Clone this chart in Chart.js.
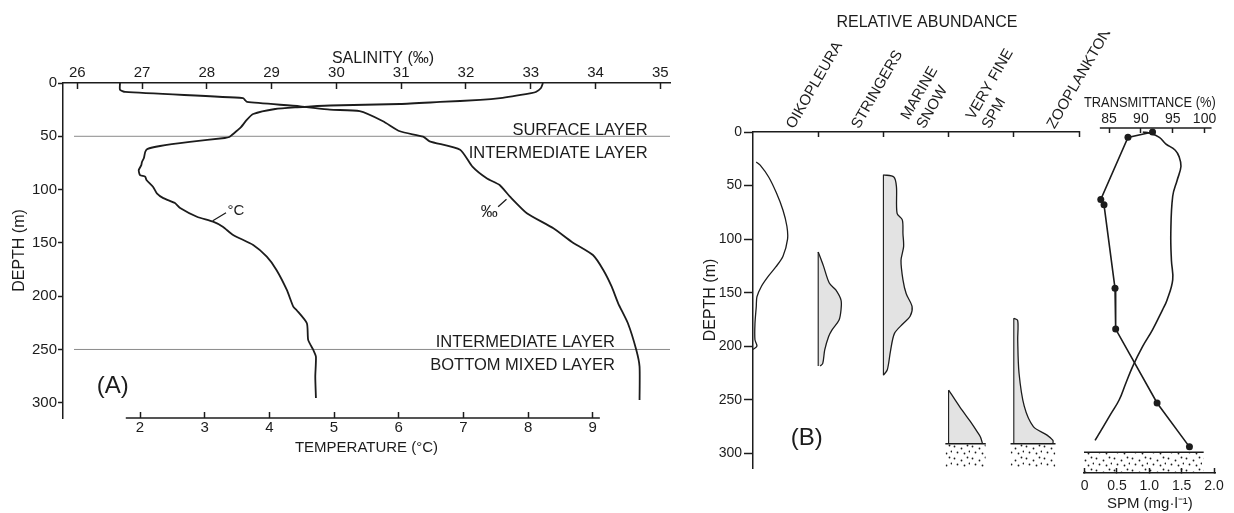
<!DOCTYPE html>
<html><head><meta charset="utf-8">
<script src="https://cdn.jsdelivr.net/npm/chart.js@4/dist/chart.umd.min.js"></script>
<style>
html,body{margin:0;padding:0;background:#fff;}
#wrap{position:relative;width:1234px;height:513px;overflow:hidden;background:#fff;}
canvas{position:absolute;top:0;}
</style></head><body>
<div id="wrap">
<canvas id="cA" width="700" height="513" style="left:0px"></canvas>
<canvas id="cB" width="454" height="513" style="left:700px"></canvas>
<canvas id="cC" width="194" height="513" style="left:1040px"></canvas>
</div>
<script>
// ================= DATA =================
// Panel A – temperature and salinity profiles
const depthTicks = [0, 50, 100, 150, 200, 250, 300];
const salinityTicks = [26, 27, 28, 29, 30, 31, 32, 33, 34, 35];
const temperatureTicks = [2, 3, 4, 5, 6, 7, 8, 9];
const tempDepth = [0, 4.7, 8.4, 9.4, 14.1, 15.9, 17.8, 19.7, 21.1, 22.8, 24.4, 29.1, 34.7, 42.2, 48.8, 50.7, 51.6, 55.3, 59.1, 62, 64.7, 70.4, 74.1, 77, 81.7, 86.4, 87.9, 91, 97.3, 103.5, 108, 112.6, 117.3, 125.5, 130.1, 134.9, 142.6, 152, 163, 175.4, 194.2, 209.9, 213, 225.4, 241, 250.5, 256.8, 275.5, 295.5];
const tempValue = [8.23, 8.20, 8.12, 8.05, 7.57, 7.26, 6.64, 6.02, 4.94, 4.43, 4.09, 3.75, 3.65, 3.55, 3.42, 3.38, 3.31, 2.77, 2.31, 2.11, 2.08, 2.06, 2.03, 2.02, 1.98, 2.0, 2.08, 2.10, 2.20, 2.26, 2.36, 2.54, 2.62, 2.88, 3.13, 3.28, 3.44, 3.75, 3.96, 4.11, 4.27, 4.37, 4.42, 4.58, 4.60, 4.68, 4.72, 4.71, 4.72];
const salDepth = [0, 6.3, 8.4, 14.1, 16, 17.8, 21.9, 25, 26.5, 35.9, 45.3, 50.4, 54.7, 62.6, 78.5, 89.4, 95.7, 106.7, 122.2, 136.3, 148.9, 161.4, 175.4, 191.1, 206.7, 225.4, 250.5, 266.1, 297.4];
const salValue = [26.66, 26.66, 26.74, 28.56, 28.59, 28.62, 29.44, 29.9, 30.36, 30.72, 30.98, 31.34, 31.44, 31.91, 32.1, 32.32, 32.52, 32.68, 32.94, 33.35, 33.63, 33.96, 34.12, 34.25, 34.35, 34.5, 34.63, 34.68, 34.68];
const layerDepths = [50, 250];
const layerLineSal = [25.95, 35.15];
const tempAxisSpan = [1.78, 9.11];

// Panel B – relative abundance (each column = 1 unit, profile measured from column's left edge)
const abundanceLabels = ['OIKOPLEURA', 'STRINGERS', ['MARINE', 'SNOW'], ['VERY FINE', 'SPM'], 'ZOOPLANKTON'];
const abundanceLabelAt = [0.5, 1.5, 2.5, 3.5, 4.5];
const oikoDepth = [28, 31, 42, 57, 73, 88, 100, 116, 126, 135, 144, 154, 163, 179, 194, 200, 203];
const oikoValue = [0.05, 0.11, 0.24, 0.36, 0.46, 0.52, 0.53, 0.46, 0.35, 0.23, 0.13, 0.06, 0.05, 0.03, 0.03, 0.06, 0.0];
const strDepth = [112, 125, 141, 147.5, 157, 166, 175.5, 185, 191, 203.5, 216, 218.5];
const strValue = [0.0, 0.08, 0.17, 0.27, 0.35, 0.35, 0.32, 0.21, 0.16, 0.10, 0.07, 0.03];
const snowDepth = [40, 42, 51, 76, 82, 95, 107, 120, 138, 151, 163, 172, 179, 188, 204, 222, 227];
const snowValue = [0.0, 0.16, 0.2, 0.21, 0.29, 0.3, 0.31, 0.27, 0.3, 0.35, 0.44, 0.41, 0.30, 0.17, 0.11, 0.06, 0.0];
const fineDepth = [241, 250, 260, 270, 280, 285, 291];
const fineValue = [0.0, 0.10, 0.21, 0.33, 0.44, 0.49, 0.52];
const zooDepth = [174, 176, 194, 225, 256, 275, 283, 288, 291];
const zooValue = [0.0, 0.06, 0.06, 0.08, 0.16, 0.30, 0.51, 0.60, 0.60];
const sedimentColumns = [3, 4];
const sedimentSpan = [0.57, 0.64];
const sedimentDepthB = 291;

// Panel B – transmittance and SPM
const transTicks = [85, 90, 95, 100];
const spmTicks = [0, 0.5, 1, 1.5, 2];
const spmTickLabels = ['0', '0.5', '1.0', '1.5', '2.0'];
const transDepth = [0, 1, 5, 11, 17, 23, 32, 45, 60, 95, 120, 138, 157, 166, 185, 200, 219, 235, 250, 263, 288];
const transValue = [90.3, 91.3, 92.9, 93.9, 95.4, 96.0, 96.3, 95.7, 95.0, 94.7, 94.8, 95.0, 94.1, 93.4, 91.8, 90.3, 88.7, 87.6, 86.6, 85.3, 82.8];
const spmDepth = [0, 5, 63, 68, 146, 184, 253, 294];
const spmValue = [1.05, 0.67, 0.25, 0.30, 0.47, 0.48, 1.12, 1.62];
const spmSedimentSpan = [-0.02, 1.84];
const sedimentDepthC = 299;
const transAxisSpan = [83.55, 101.1];

// ================= STYLE / HELPERS =================
const FONT = "'Liberation Sans', Arial, sans-serif";
const INK = '#1c1c1c';
Chart.defaults.font.family = FONT;
Chart.defaults.font.size = 15;
Chart.defaults.color = INK;
Chart.defaults.animation = false;

const toXY = (xs, ds) => xs.map((v, i) => ({x: v, y: ds[i]}));
const fixedFit = size => scale => { if (scale.isHorizontal()) scale.height = size; else scale.width = size; };
const setTicks = values => scale => { scale.ticks = values.map(v => ({value: v})); };

function makeStipple() {
  const c = document.createElement('canvas');
  c.width = 18; c.height = 12;
  const g = c.getContext('2d');
  g.fillStyle = INK;
  [[2, 2], [9, 4], [15, 1], [5, 8], [12, 9], [17, 7]].forEach(([x, y]) => {
    g.beginPath(); g.arc(x + 0.5, y + 0.5, 0.9, 0, Math.PI * 2); g.fill();
  });
  return g.createPattern(c, 'repeat');
}
const STIPPLE = makeStipple();
const SHADE = 'rgba(0,0,0,0.11)';

// ================= PANEL A =================
const annotA = {
  id: 'annotA',
  afterDatasetsDraw(chart) {
    const {ctx, scales: {sal, temp, y}} = chart;
    ctx.save();
    ctx.strokeStyle = INK; ctx.lineWidth = 1.5;
    ctx.beginPath();
    ctx.moveTo(temp.getPixelForValue(tempAxisSpan[0]), temp.top);
    ctx.lineTo(temp.getPixelForValue(tempAxisSpan[1]), temp.top);
    ctx.stroke();
    ctx.fillStyle = INK; ctx.textBaseline = 'alphabetic';
    ctx.font = '16px ' + FONT; ctx.textAlign = 'center';
    ctx.fillText('SALINITY (‰)', sal.getPixelForValue(30.72), sal.bottom - 19.7);
    ctx.font = '16.5px ' + FONT; ctx.textAlign = 'right';
    const y1 = y.getPixelForValue(layerDepths[0]);
    ctx.fillText('SURFACE LAYER', sal.getPixelForValue(34.807), y1 - 1.7);
    ctx.fillText('INTERMEDIATE LAYER', sal.getPixelForValue(34.807), y1 + 22);
    const y2 = y.getPixelForValue(layerDepths[1]);
    ctx.fillText('INTERMEDIATE LAYER', sal.getPixelForValue(34.298), y2 - 2.5);
    ctx.fillText('BOTTOM MIXED LAYER', sal.getPixelForValue(34.298), y2 + 20.5);
    ctx.textAlign = 'left';
    ctx.font = '24px ' + FONT;
    ctx.fillText('(A)', sal.getPixelForValue(26.3), y.getPixelForValue(291.3));
    ctx.font = '15px ' + FONT;
    ctx.fillText('°C', temp.getPixelForValue(3.353), y.getPixelForValue(123.8));
    ctx.font = '17px ' + FONT;
    ctx.fillText('‰', sal.getPixelForValue(32.23), y.getPixelForValue(125.4));
    ctx.lineWidth = 1.3;
    ctx.beginPath();
    ctx.moveTo(temp.getPixelForValue(3.125), y.getPixelForValue(129.2));
    ctx.lineTo(temp.getPixelForValue(3.33), y.getPixelForValue(121.7));
    ctx.moveTo(sal.getPixelForValue(32.497), y.getPixelForValue(116));
    ctx.lineTo(sal.getPixelForValue(32.626), y.getPixelForValue(109.1));
    ctx.stroke();
    ctx.restore();
  }
};

new Chart(document.getElementById('cA'), {
  type: 'scatter',
  data: {datasets: [
    {label: 'Temperature', data: toXY(tempValue, tempDepth), xAxisID: 'temp', yAxisID: 'y', showLine: true, borderColor: INK, borderWidth: 1.8, pointRadius: 0, tension: 0.2},
    {label: 'Salinity', data: toXY(salValue, salDepth), xAxisID: 'sal', yAxisID: 'y', showLine: true, borderColor: INK, borderWidth: 1.8, pointRadius: 0, tension: 0.2},
    ...layerDepths.map(d => ({label: 'Layer boundary', data: [{x: layerLineSal[0], y: d}, {x: layerLineSal[1], y: d}], xAxisID: 'sal', yAxisID: 'y', showLine: true, borderColor: '#8a8a8a', borderWidth: 1, pointRadius: 0}))
  ]},
  options: {
    responsive: false, animation: false,
    layout: {padding: {left: 0, top: 0, right: 30, bottom: 0}},
    plugins: {legend: {display: false}, tooltip: {enabled: false}},
    scales: {
      y: {type: 'linear', position: 'left', reverse: true, min: 0, max: 314.3,
        afterBuildTicks: setTicks(depthTicks), afterFit: fixedFit(63),
        grid: {drawOnChartArea: false, tickLength: 5, color: INK, tickWidth: 1.5},
        border: {display: true, color: INK, width: 1.5},
        ticks: {padding: 1, font: {size: 15}, color: INK},
        title: {display: true, text: 'DEPTH (m)', font: {size: 16}, color: INK, padding: {top: 10, bottom: 0}}},
      sal: {type: 'linear', position: 'top', min: 25.78, max: 35.15,
        afterBuildTicks: setTicks(salinityTicks), afterFit: fixedFit(83),
        grid: {drawOnChartArea: false, tickLength: -6, color: INK, tickWidth: 1.5},
        border: {display: true, color: INK, width: 1.5},
        ticks: {padding: 7, font: {size: 15}, color: INK}},
      temp: {type: 'linear', position: 'bottom', min: 0.809, max: 10.195,
        afterBuildTicks: setTicks(temperatureTicks), afterFit: fixedFit(95),
        grid: {drawOnChartArea: false, tickLength: -6, color: INK, tickWidth: 1.5},
        border: {display: false},
        ticks: {padding: 6.5, font: {size: 15}, color: INK},
        title: {display: true, text: 'TEMPERATURE (°C)', font: {size: 15}, color: INK, padding: {top: 0, bottom: 56}}}
    }
  },
  plugins: [annotA]
});

// ================= PANEL B – abundance =================
const profiles = [
  {name: 'Oikopleura', col: 0, depth: oikoDepth, value: oikoValue, shaded: false},
  {name: 'Stringers', col: 1, depth: strDepth, value: strValue, shaded: true},
  {name: 'Marine snow', col: 2, depth: snowDepth, value: snowValue, shaded: true},
  {name: 'Very fine SPM', col: 3, depth: fineDepth, value: fineValue, shaded: true},
  {name: 'Zooplankton', col: 4, depth: zooDepth, value: zooValue, shaded: true}
];
const bDatasets = [];
profiles.forEach(p => {
  bDatasets.push({label: p.name, indexAxis: 'y', data: p.depth.map((d, i) => ({x: p.col + p.value[i], y: d})),
    xAxisID: 'xr', yAxisID: 'y', showLine: true, tension: 0.3, borderColor: INK, borderWidth: 1.3, pointRadius: 0,
    fill: p.shaded ? {value: p.col} : false, backgroundColor: SHADE});
  if (p.shaded) {
    bDatasets.push({label: p.name + ' edge', indexAxis: 'y', data: [{x: p.col, y: p.depth[0]}, {x: p.col, y: p.depth[p.depth.length - 1]}],
      xAxisID: 'xr', yAxisID: 'y', showLine: true, borderColor: INK, borderWidth: 1.1, pointRadius: 0, fill: false});
  }
});
sedimentColumns.forEach((c, i) => {
  bDatasets.push({label: 'Sediment', indexAxis: 'x', data: [{x: c - 0.05, y: sedimentDepthB}, {x: c + sedimentSpan[i], y: sedimentDepthB}],
    xAxisID: 'xr', yAxisID: 'y', showLine: true, borderColor: INK, borderWidth: 1.4, pointRadius: 0, fill: 'start', backgroundColor: STIPPLE});
});

const annotB = {
  id: 'annotB',
  afterDatasetsDraw(chart) {
    const {ctx, scales: {xr, y}} = chart;
    ctx.save();
    ctx.fillStyle = INK; ctx.font = '24px ' + FONT; ctx.textAlign = 'left'; ctx.textBaseline = 'alphabetic';
    ctx.fillText('(B)', xr.getPixelForValue(0.58), y.getPixelForValue(292));
    ctx.restore();
  }
};

new Chart(document.getElementById('cB'), {
  type: 'scatter',
  data: {datasets: bDatasets},
  options: {
    responsive: false, animation: false, indexAxis: 'y',
    layout: {padding: {left: 0, top: 0, right: 0, bottom: 45}},
    plugins: {legend: {display: false}, tooltip: {enabled: false},
      title: {display: true, text: 'RELATIVE ABUNDANCE', font: {size: 16, weight: 'normal'}, color: INK, padding: {top: 13, bottom: 0}}},
    scales: {
      y: {type: 'linear', position: 'left', reverse: true, min: 0, max: 313.7,
        afterBuildTicks: setTicks(depthTicks), afterFit: fixedFit(53),
        grid: {drawOnChartArea: false, tickLength: 9, color: INK, tickWidth: 1.5},
        border: {display: true, color: INK, width: 1.5},
        ticks: {padding: 2, font: {size: 14}, color: INK},
        title: {display: true, text: 'DEPTH (m)', font: {size: 16}, color: INK, padding: {top: 1, bottom: 0}}},
      yr: {type: 'linear', position: 'right', display: true, grid: {display: false}, ticks: {display: false}, border: {display: false}, afterFit: fixedFit(75)},
      xc: {type: 'category', position: 'top', weight: 0, labels: abundanceLabels, offset: true,
        grid: {offset: true, drawOnChartArea: false, tickLength: -5, tickWidth: 1.5,
          tickColor: ctx => (ctx.index === 0 || ctx.index === abundanceLabels.length) ? 'rgba(0,0,0,0)' : INK},
        border: {display: true, color: INK, width: 1.5},
        ticks: {display: false},
        afterFit: fixedFit(0)},
      xl: {type: 'linear', position: 'top', weight: 1, min: -0.31, max: 4.69,
        afterBuildTicks: setTicks(abundanceLabelAt), afterFit: fixedFit(99.8),
        grid: {display: false, drawTicks: false}, border: {display: false},
        ticks: {minRotation: 60, maxRotation: 60, autoSkip: false, padding: 0, font: {size: 15}, color: INK,
          callback: (v, i) => abundanceLabels[i]}},
      xr: {type: 'linear', position: 'top', display: false, min: 0, max: 5}
    }
  },
  plugins: [annotB]
});

// ================= PANEL B – transmittance & SPM =================
const annotC = {
  id: 'annotC',
  afterDatasetsDraw(chart) {
    const {ctx, scales: {trans}} = chart;
    ctx.save();
    ctx.strokeStyle = INK; ctx.lineWidth = 1.5;
    ctx.beginPath();
    ctx.moveTo(trans.getPixelForValue(transAxisSpan[0]), trans.bottom);
    ctx.lineTo(trans.getPixelForValue(transAxisSpan[1]), trans.bottom);
    ctx.stroke();
    ctx.restore();
  }
};

new Chart(document.getElementById('cC'), {
  type: 'scatter',
  data: {datasets: [
    {label: 'Transmittance', data: toXY(transValue, transDepth), xAxisID: 'trans', yAxisID: 'y', showLine: true, tension: 0.4, borderColor: INK, borderWidth: 1.6, pointRadius: 0},
    {label: 'SPM', data: toXY(spmValue, spmDepth), xAxisID: 'spm', yAxisID: 'y', showLine: true, tension: 0, borderColor: INK, borderWidth: 1.6, pointRadius: 3.5, pointBackgroundColor: INK, pointBorderWidth: 0},
    {label: 'Sediment', data: [{x: spmSedimentSpan[0], y: sedimentDepthC}, {x: spmSedimentSpan[1], y: sedimentDepthC}], xAxisID: 'spm', yAxisID: 'y', showLine: true, fill: 'start', backgroundColor: STIPPLE, borderColor: INK, borderWidth: 1.5, pointRadius: 0}
  ]},
  options: {
    responsive: false, animation: false,
    layout: {padding: {left: 44, right: 17, top: 0, bottom: 0}},
    plugins: {legend: {display: false}, tooltip: {enabled: false}},
    scales: {
      y: {type: 'linear', display: false, reverse: true, min: -3.73, max: 318.4},
      trans: {type: 'linear', position: 'top', min: 81.06, max: 101.76,
        afterBuildTicks: setTicks(transTicks), afterFit: fixedFit(128),
        grid: {drawOnChartArea: false, tickLength: -5, color: INK, tickWidth: 1.5},
        border: {display: false},
        ticks: {padding: 5, font: {size: 14}, color: INK},
        title: {display: true, text: 'TRANSMITTANCE (%)', font: {size: 15}, color: INK, padding: {top: 94, bottom: 0}}},
      spm: {type: 'linear', position: 'bottom', min: -0.0092, max: 2.026,
        afterBuildTicks: setTicks(spmTicks), afterFit: fixedFit(40),
        grid: {drawOnChartArea: false, tickLength: -5, color: INK, tickWidth: 1.5},
        border: {display: true, color: INK, width: 1.5},
        ticks: {padding: 10, font: {size: 14}, color: INK, callback: (v, i) => spmTickLabels[i]},
        title: {display: true, text: 'SPM (mg·l⁻¹)', font: {size: 15}, color: INK, padding: {top: 0, bottom: 0}}}
    }
  },
  plugins: [annotC]
});
</script>
</body></html>
